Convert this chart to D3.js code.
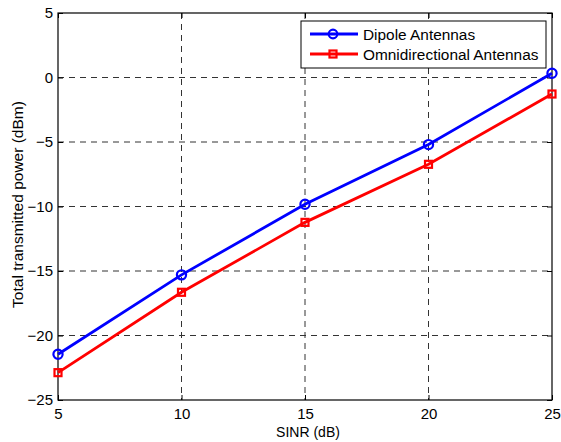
<!DOCTYPE html>
<html>
<head>
<meta charset="utf-8">
<script src="https://cdn.jsdelivr.net/npm/d3@7"></script>
<style>
body { margin: 0; background: #fff; }
text { font-family: "Liberation Sans", Arial, sans-serif; }
</style>
</head>
<body>
<script>
// data
var sinr = [5, 10, 15, 20, 25];
var dipole = [-21.45, -15.3, -9.83, -5.2, 0.33];
var omni = [-22.88, -16.65, -11.23, -6.73, -1.28];
var xTicks = [5, 10, 15, 20, 25];
var yTicks = [-25, -20, -15, -10, -5, 0, 5];
var seriesNames = ["Dipole Antennas", "Omnidirectional Antennas"];

var margin = {top: 13, right: 9, bottom: 42, left: 58},
    width = 561 - margin.left - margin.right,
    height = 442 - margin.top - margin.bottom;

var x = d3.scaleLinear().domain([5, 25]).range([0, width]);
var y = d3.scaleLinear().domain([-25, 5]).range([height, 0]);

var svg = d3.select("body").append("svg")
    .attr("width", 561)
    .attr("height", 442)
    .append("g")
    .attr("transform", "translate(" + margin.left + "," + margin.top + ")");

// grid
svg.append("g").selectAll("line")
    .data(xTicks.slice(1, -1))
    .enter().append("line")
    .attr("x1", function(d) { return x(d); }).attr("x2", function(d) { return x(d); })
    .attr("y1", 0).attr("y2", height)
    .attr("stroke", "#333").attr("stroke-dasharray", "6,5");
svg.append("g").selectAll("line")
    .data(yTicks.slice(1, -1))
    .enter().append("line")
    .attr("y1", function(d) { return y(d); }).attr("y2", function(d) { return y(d); })
    .attr("x1", 0).attr("x2", width)
    .attr("stroke", "#333").attr("stroke-dasharray", "6,5");

// axes with inward ticks
function styleAxis(g) {
    g.select(".domain").remove();
    g.selectAll("line").attr("stroke", "#000");
    g.selectAll("text").attr("font-size", 15).attr("fill", "#000")
        .attr("font-family", "Liberation Sans, Arial, sans-serif");
}
svg.append("g")
    .attr("transform", "translate(0," + height + ")")
    .call(d3.axisBottom(x).tickValues(xTicks).tickSizeInner(-5).tickSizeOuter(0).tickPadding(8))
    .call(styleAxis);
svg.append("g")
    .call(d3.axisLeft(y).tickValues(yTicks).tickSizeInner(-5).tickSizeOuter(0).tickPadding(5))
    .call(styleAxis);
svg.append("g")
    .call(d3.axisTop(x).tickValues(xTicks).tickSizeInner(-5).tickSizeOuter(0).tickFormat(""))
    .call(styleAxis);
svg.append("g")
    .attr("transform", "translate(" + width + ",0)")
    .call(d3.axisRight(y).tickValues(yTicks).tickSizeInner(-5).tickSizeOuter(0).tickFormat(""))
    .call(styleAxis);

svg.append("rect")
    .attr("width", width).attr("height", height)
    .attr("fill", "none").attr("stroke", "#000").attr("stroke-width", 1.2);

// lines
var line = d3.line()
    .x(function(d, i) { return x(sinr[i]); })
    .y(function(d) { return y(d); });

svg.append("path").datum(dipole)
    .attr("d", line).attr("fill", "none").attr("stroke", "#0000ff").attr("stroke-width", 2.8);
svg.append("path").datum(omni)
    .attr("d", line).attr("fill", "none").attr("stroke", "#ff0000").attr("stroke-width", 2.8);

svg.selectAll(".dot")
    .data(dipole)
    .enter().append("circle")
    .attr("cx", function(d, i) { return x(sinr[i]); })
    .attr("cy", function(d) { return y(d); })
    .attr("r", 4.6).attr("fill", "none").attr("stroke", "#0000ff").attr("stroke-width", 2.2);

svg.selectAll(".sq")
    .data(omni)
    .enter().append("rect")
    .attr("x", function(d, i) { return x(sinr[i]) - 3.5; })
    .attr("y", function(d) { return y(d) - 3.5; })
    .attr("width", 7).attr("height", 7)
    .attr("fill", "none").attr("stroke", "#ff0000").attr("stroke-width", 2.2);

// legend
var legend = svg.append("g").attr("transform", "translate(243,8)");
legend.append("rect")
    .attr("width", 245).attr("height", 47)
    .attr("fill", "#fff").attr("stroke", "#000");
var colors = ["#0000ff", "#ff0000"];
seriesNames.forEach(function(name, i) {
    var ly = 13 + i * 20;
    legend.append("line")
        .attr("x1", 9).attr("x2", 57).attr("y1", ly).attr("y2", ly)
        .attr("stroke", colors[i]).attr("stroke-width", 2.8);
    if (i == 0) {
        legend.append("circle").attr("cx", 32).attr("cy", ly).attr("r", 4.3)
            .attr("fill", "none").attr("stroke", colors[i]).attr("stroke-width", 2.2);
    } else {
        legend.append("rect").attr("x", 28.5).attr("y", ly - 3.5).attr("width", 7).attr("height", 7)
            .attr("fill", "none").attr("stroke", colors[i]).attr("stroke-width", 2.2);
    }
    legend.append("text")
        .attr("x", 62).attr("y", ly + 5.5)
        .attr("font-size", 15.4)
        .text(name);
});

// axis labels
svg.append("text")
    .attr("x", 250).attr("y", height + 37)
    .attr("text-anchor", "middle").attr("font-size", 14)
    .text("SINR (dB)");
svg.append("text")
    .attr("transform", "translate(-35," + (height / 2 - 2) + ") rotate(-90)")
    .attr("text-anchor", "middle").attr("font-size", 15.5)
    .text("Total transmitted power (dBm)");
</script>
</body>
</html>
